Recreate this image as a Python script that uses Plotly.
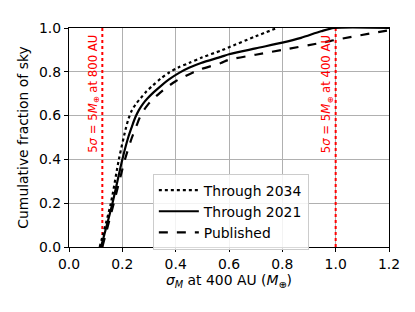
import plotly.graph_objects as go

# Data
x_2034 = [0.115, 0.157, 0.187, 0.213, 0.223, 0.236, 0.252, 0.269, 0.29, 0.313, 0.345, 0.376,
          0.41, 0.45, 0.5, 0.57, 0.6, 0.7, 0.78]
y_2034 = [0.0, 0.2, 0.4, 0.541, 0.585, 0.625, 0.655, 0.68, 0.71, 0.736, 0.77, 0.797,
          0.82, 0.84, 0.866, 0.897, 0.912, 0.962, 1.0]

x_2021 = [0.12, 0.163, 0.200, 0.222, 0.236, 0.248, 0.262, 0.278, 0.294, 0.318, 0.344, 0.375,
          0.413, 0.45, 0.495, 0.57, 0.6, 0.7, 0.8, 0.87, 0.945, 0.995, 1.2]
y_2021 = [0.0, 0.2, 0.4, 0.5, 0.55, 0.59, 0.625, 0.655, 0.678, 0.707, 0.735, 0.765,
          0.795, 0.818, 0.84, 0.868, 0.88, 0.907, 0.933, 0.955, 0.985, 1.0, 1.0]

x_pub = [0.125, 0.168, 0.21, 0.236, 0.252, 0.265, 0.28, 0.296, 0.313, 0.34, 0.37, 0.4,
         0.432, 0.465, 0.495, 0.57, 0.6, 0.7, 0.8, 0.958, 1.0, 1.2]
y_pub = [0.0, 0.2, 0.4, 0.5, 0.55, 0.59, 0.623, 0.65, 0.673, 0.703, 0.732, 0.757,
         0.778, 0.797, 0.812, 0.84, 0.855, 0.878, 0.9, 0.935, 0.946, 0.99]

limit_x = [0.125, 1.0]
limit_labels = ["800 AU", "400 AU"]

x_ticks = [0.0, 0.2, 0.4, 0.6, 0.8, 1.0, 1.2]
y_ticks = [0.0, 0.2, 0.4, 0.6, 0.8, 1.0]

FS = 13.9
fig = go.Figure()

for lx in limit_x:
    fig.add_trace(go.Scatter(x=[lx, lx], y=[0, 1], mode="lines",
                             line=dict(color="red", width=2, dash="dot"),
                             showlegend=False, hoverinfo="skip"))

fig.add_trace(go.Scatter(x=x_2034, y=y_2034, mode="lines", name="Through 2034",
                         line=dict(color="black", width=2.2, dash="dot", shape="spline", smoothing=0.8)))
fig.add_trace(go.Scatter(x=x_2021, y=y_2021, mode="lines", name="Through 2021",
                         line=dict(color="black", width=2.2, shape="spline", smoothing=0.8)))
fig.add_trace(go.Scatter(x=x_pub, y=y_pub, mode="lines", name="Published",
                         line=dict(color="black", width=2.2, dash="dash", shape="spline", smoothing=0.8)))

for lx, lab in zip(limit_x, limit_labels):
    fig.add_annotation(x=lx, y=0.977, xref="x", yref="y",
                       text="5<i>σ</i> = 5<i>M</i><sub>⊕</sub> at " + lab,
                       textangle=-90, showarrow=False, xanchor="right", yanchor="top",
                       xshift=0, font=dict(color="red", size=11.7, family="DejaVu Sans"))

axis_common = dict(showline=True, linecolor="black", linewidth=1.2, mirror=True,
                   ticks="outside", ticklen=4, tickcolor="black",
                   showgrid=True, gridcolor="#b0b0b0", gridwidth=1, zeroline=False,
                   tickfont=dict(size=FS, family="DejaVu Sans", color="black"))

fig.update_xaxes(range=[0, 1.2], tickvals=x_ticks, ticktext=[f"{v:.1f}" for v in x_ticks],
                 title=dict(text="<i>σ<sub>M</sub></i> at 400 AU (<i>M</i><sub>⊕</sub>)",
                            font=dict(size=FS, family="DejaVu Sans", color="black"), standoff=4),
                 **axis_common)
fig.update_yaxes(range=[0, 1.0], tickvals=y_ticks, ticktext=[f"{v:.1f}" for v in y_ticks],
                 title=dict(text="Cumulative fraction of sky",
                            font=dict(size=FS, family="DejaVu Sans", color="black"), standoff=7),
                 **axis_common)

fig.update_layout(
    width=415, height=312,
    margin=dict(l=61, r=34, t=14, b=73),
    paper_bgcolor="white", plot_bgcolor="white",
    legend=dict(x=0.262, y=0.335, xanchor="left", yanchor="top",
                bgcolor="rgba(255,255,255,0.85)", bordercolor="#cccccc", borderwidth=1,
                font=dict(size=FS, family="DejaVu Sans", color="black"),
                tracegroupgap=0, itemwidth=40),
    font=dict(family="DejaVu Sans"),
)

fig.write_html("out.html")
